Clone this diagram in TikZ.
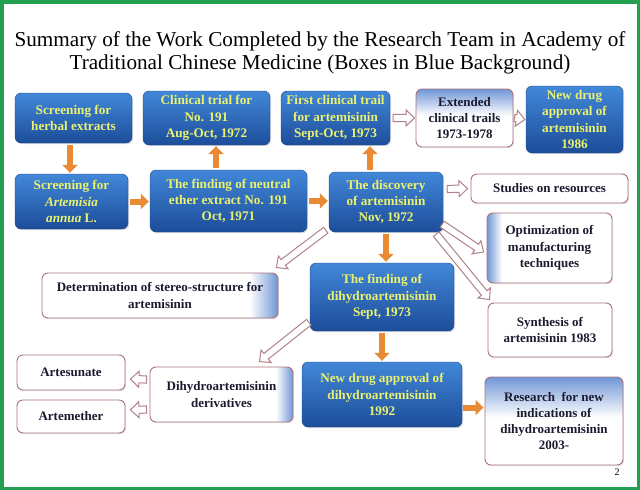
\documentclass[tikz,border=0pt]{standalone}
\usepackage{fontspec}
\setmainfont{Liberation Serif}
\usetikzlibrary{arrows.meta,calc,shadows}
\definecolor{frameG}{HTML}{22A04F}
\definecolor{blueT}{HTML}{4287D8}
\definecolor{blueB}{HTML}{1C4D9A}
\definecolor{blueD}{HTML}{1D4A8C}
\definecolor{ytext}{HTML}{EAF270}
\definecolor{wtext}{HTML}{1B1B30}
\definecolor{wline}{HTML}{A8747A}
\definecolor{hline}{HTML}{B08288}
\definecolor{orangeC}{HTML}{E98A35}
\definecolor{fadeblue}{HTML}{7096D6}
\pgfdeclarehorizontalshading{fadeR}{100bp}{color(0bp)=(white); color(25bp)=(white); color(69bp)=(white); color(75bp)=(fadeblue); color(100bp)=(fadeblue)}
\pgfdeclarehorizontalshading{fadeL}{100bp}{color(0bp)=(fadeblue); color(25bp)=(fadeblue); color(31bp)=(white); color(100bp)=(white)}
\pgfdeclareverticalshading{fadeT}{100bp}{color(0bp)=(white); color(25bp)=(white); color(52bp)=(white); color(75bp)=(fadeblue); color(100bp)=(fadeblue)}
\tikzset{
  bbox/.style={rounded corners=6pt, top color=blueT, bottom color=blueB, draw=blueD, line width=0.4pt,
    text=ytext, font=\fontsize{13.2}{16.3}\selectfont\bfseries, align=center, inner sep=2pt,
    drop shadow={opacity=0.25, shadow xshift=1.2pt, shadow yshift=-1.2pt}},
  wbox/.style={rounded corners=6pt, fill=white, draw=wline, line width=0.9pt,
    text=wtext, font=\fontsize{13}{16.3}\selectfont\bfseries, align=center, inner sep=2pt,
    drop shadow={opacity=0.2, shadow xshift=1.2pt, shadow yshift=-1.2pt}},
  oarr/.style={draw=orangeC, line width=6pt, -{Triangle[length=8pt,width=15pt]}},
  hollowline/.style={draw=hline, fill=white, line width=1pt, line join=miter},
}
\newcommand\harr[2]{%
  \coordinate (hs) at #1; \coordinate (he) at #2;
  \coordinate (hm) at ($(he)!8.5pt!(hs)$);
  \draw[hollowline] ($(hs)!3.6pt!90:(he)$) -- ($(hm)!3.6pt!-90:(hs)$) -- ($(hm)!8pt!-90:(hs)$) -- (he)
     -- ($(hm)!8pt!90:(hs)$) -- ($(hm)!3.6pt!90:(hs)$) -- ($(hs)!3.6pt!-90:(he)$) -- cycle;}
\begin{document}
\begin{tikzpicture}[x=1pt,y=-1pt]
\useasboundingbox (0,0) rectangle (640,490);
\fill[white] (0,0) rectangle (640,490);
\draw[frameG, line width=3.5pt] (1.75,1.75) rectangle (638.25,488.25);

\node[font=\fontsize{21.2}{23}\selectfont, align=center] (title) at (320,53)
  {Summary of the Work Completed by the Research Team in Academy of\\Traditional Chinese Medicine (Boxes in Blue Background)};

% blue boxes
\node[bbox, minimum width=117pt, minimum height=50pt] (herbal) at (73.5,118) {Screening for\\herbal extracts};
\node[bbox, minimum width=127pt, minimum height=54pt] (clin) at (206.5,118) {Clinical trial for\\No. 191\\Aug-Oct, 1972};
\node[bbox, minimum width=109pt, minimum height=54pt] (first) at (335.5,118) {First clinical trail\\for artemisinin\\Sept-Oct, 1973};
\node[bbox, minimum width=97pt, minimum height=67pt] (appA) at (574.5,119.5) {New drug\\approval of\\artemisinin\\1986};
\node[bbox, minimum width=113pt, minimum height=55pt] (artem) at (71.5,201.5) {Screening for\\\textit{Artemisia}\\\textit{annua} L.};
\node[bbox, minimum width=157pt, minimum height=62pt] (neutral) at (228.5,201) {The finding of neutral\\ether extract No. 191\\Oct, 1971};
\node[bbox, minimum width=114pt, minimum height=60pt] (disc) at (386,202) {The discovery\\of artemisinin\\Nov, 1972};
\node[bbox, minimum width=144pt, minimum height=68pt] (dha) at (382,297) {The finding of\\dihydroartemisinin\\Sept, 1973};
\node[bbox, minimum width=160pt, minimum height=65pt] (appB) at (382,394.5) {New drug approval of\\dihydroartemisinin\\1992};

% white boxes
\node[wbox, shading=fadeT, minimum width=97pt, minimum height=58pt] (ext) at (464.5,118) {Extended\\clinical trails\\1973-1978};
\node[wbox, minimum width=157pt, minimum height=29pt] (res) at (549.5,188.5) {Studies on resources};
\node[wbox, shading=fadeL, minimum width=125pt, minimum height=70pt] (opt) at (549.5,248) {Optimization of\\manufacturing\\techniques};
\node[wbox, shading=fadeR, minimum width=236pt, minimum height=45pt] (det) at (160,295.5) {Determination of stereo-structure for\\artemisinin};
\node[wbox, minimum width=124pt, minimum height=54pt] (syn) at (550,330) {Synthesis of\\artemisinin 1983};
\node[wbox, minimum width=108pt, minimum height=35pt] (sun) at (71,372.5) {Artesunate};
\node[wbox, minimum width=108pt, minimum height=33pt] (meth) at (71,416.5) {Artemether};
\node[wbox, shading=fadeR, minimum width=143pt, minimum height=55pt] (der) at (221.5,394.5) {Dihydroartemisinin\\derivatives};
\node[wbox, shading=fadeT, minimum width=138pt, minimum height=88pt] (rsch) at (554,421) {Research~ for new\\indications of\\dihydroartemisinin\\2003-};

\node[font=\fontsize{10}{12}\selectfont] (pg) at (617,472) {2};

% orange arrows
\coordinate (h1) at ($(herbal.south)+(-3.5,0)$);
\draw[oarr, shorten <=2pt, shorten >=1pt] (h1) -- (h1 |- artem.north);
\draw[oarr, shorten <=2pt, shorten >=1pt] (artem.east) -- (artem.east -| neutral.west);
\coordinate (n1) at ($(neutral.north)+(-12.5,0)$);
\draw[oarr, shorten <=2pt, shorten >=1pt] (n1) -- (n1 |- clin.south);
\draw[oarr, shorten <=2pt, shorten >=1pt] (neutral.east) -- (neutral.east -| disc.west);
\coordinate (d1) at ($(disc.north)+(-16,0)$);
\draw[oarr, shorten <=2pt, shorten >=1pt] (d1) -- (d1 |- first.south);
\draw[oarr, shorten <=2pt, shorten >=1pt] (disc.south) -- (disc.south |- dha.north);
\draw[oarr, shorten <=2pt, shorten >=1pt] (dha.south) -- (dha.south |- appB.north);
\coordinate (a1) at ($(appB.east)+(0,13)$);
\draw[oarr, shorten <=1pt, shorten >=1pt] (a1) -- (a1 -| rsch.west);

% hollow arrows
\harr{($(first.east)+(3,0)$)}{($(ext.west)+(-1,0)$)}
\harr{($(ext.east)+(1,0)$)}{($(appA.west)+(-1,0)$)}
\harr{($(disc.east)+(4,-13)$)}{($(res.west)+(-3,0)$)}
\harr{($(disc.south east)+(-1,-8)$)}{($(opt.west)+(-3,4)$)}
\harr{($(disc.south east)+(-7,2)$)}{($(syn.north west)+(2,-3)$)}
\harr{($(disc.south west)+(-3,-2)$)}{($(det.north east)+(-2,-5)$)}
\harr{($(dha.south west)+(-1,-9)$)}{($(der.north east)+(-34,-5)$)}
\harr{($(der.west)+(-3,-15)$)}{($(sun.east)+(5,6.5)$)}
\harr{($(der.west)+(-3,15)$)}{($(meth.east)+(5,-6.5)$)}
\end{tikzpicture}
\end{document}
